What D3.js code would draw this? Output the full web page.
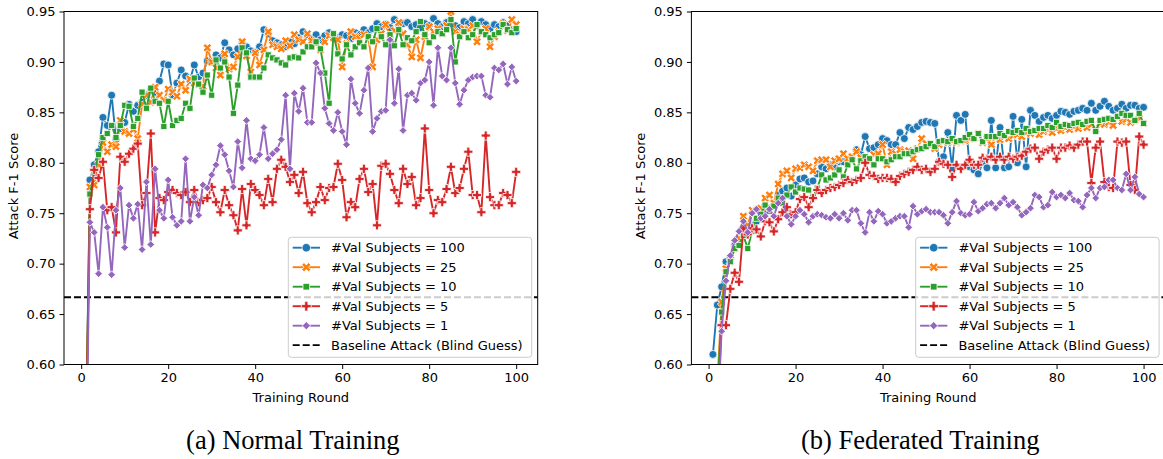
<!DOCTYPE html>
<html>
<head>
<meta charset="utf-8">
<script src="https://cdn.jsdelivr.net/npm/d3@7"></script>
<style>
body { margin: 0; background: #fff; }
text { font-family: "DejaVu Sans", sans-serif; }
</style>
</head>
<body>
<svg id="chart" width="1163" height="459"></svg>
<script>
// training rounds 1..100
var rounds = d3.range(1, 101);

// (a) normal training
var normal100 = [0.50,0.783,0.798,0.811,0.845,0.837,0.867,0.823,0.834,0.840,
	0.858,0.851,0.857,0.860,0.867,0.872,0.870,0.881,0.898,0.897,
	0.867,0.879,0.892,0.886,0.882,0.897,0.885,0.889,0.901,0.900,
	0.907,0.904,0.919,0.912,0.907,0.913,0.918,0.915,0.911,0.909,
	0.915,0.932,0.928,0.921,0.919,0.917,0.915,0.920,0.918,0.924,
	0.930,0.926,0.923,0.927,0.922,0.926,0.929,0.925,0.924,0.927,
	0.926,0.923,0.929,0.927,0.932,0.929,0.933,0.938,0.935,0.937,
	0.934,0.942,0.936,0.938,0.939,0.935,0.937,0.934,0.938,0.936,
	0.943,0.938,0.935,0.939,0.937,0.936,0.934,0.940,0.938,0.942,
	0.936,0.940,0.937,0.933,0.937,0.935,0.939,0.936,0.932,0.930];
var normal25 = [0.50,0.776,0.778,0.798,0.820,0.811,0.818,0.816,0.842,0.831,
	0.829,0.833,0.824,0.858,0.867,0.860,0.875,0.867,0.862,0.873,
	0.870,0.866,0.878,0.872,0.883,0.879,0.878,0.876,0.914,0.900,
	0.894,0.887,0.908,0.893,0.895,0.905,0.920,0.906,0.890,0.909,
	0.897,0.912,0.930,0.917,0.915,0.913,0.921,0.916,0.927,0.922,
	0.920,0.928,0.921,0.918,0.912,0.920,0.926,0.924,0.922,0.895,
	0.918,0.930,0.925,0.923,0.927,0.924,0.895,0.922,0.928,0.937,
	0.926,0.931,0.939,0.928,0.917,0.905,0.922,0.904,0.925,0.935,
	0.930,0.933,0.928,0.936,0.950,0.930,0.927,0.933,0.932,0.936,
	0.920,0.930,0.933,0.915,0.925,0.930,0.938,0.931,0.942,0.937];
var normal10 = [0.50,0.769,0.790,0.808,0.825,0.829,0.837,0.825,0.837,0.857,
	0.856,0.836,0.844,0.870,0.854,0.874,0.861,0.859,0.836,0.861,
	0.837,0.842,0.844,0.859,0.854,0.884,0.878,0.870,0.887,0.867,
	0.902,0.894,0.900,0.885,0.849,0.877,0.914,0.909,0.885,0.885,
	0.885,0.894,0.907,0.904,0.902,0.899,0.897,0.904,0.905,0.904,
	0.910,0.915,0.915,0.920,0.913,0.889,0.859,0.928,0.908,0.903,
	0.917,0.907,0.915,0.919,0.915,0.925,0.920,0.933,0.925,0.917,
	0.927,0.916,0.932,0.917,0.924,0.921,0.930,0.940,0.927,0.919,
	0.925,0.930,0.928,0.932,0.942,0.900,0.925,0.930,0.924,0.927,
	0.937,0.930,0.927,0.924,0.927,0.929,0.937,0.932,0.929,0.933];
var normal5 = [0.50,0.754,0.793,0.785,0.801,0.753,0.756,0.731,0.806,0.801,
	0.809,0.814,0.819,0.758,0.770,0.829,0.731,0.765,0.763,0.771,
	0.773,0.770,0.768,0.771,0.761,0.773,0.761,0.763,0.765,0.776,
	0.761,0.751,0.773,0.758,0.748,0.733,0.774,0.738,0.779,0.773,
	0.768,0.758,0.784,0.761,0.794,0.803,0.796,0.781,0.788,0.770,
	0.791,0.760,0.751,0.761,0.776,0.763,0.775,0.776,0.799,0.783,
	0.746,0.761,0.756,0.784,0.794,0.771,0.779,0.738,0.797,0.799,
	0.789,0.773,0.760,0.794,0.779,0.786,0.758,0.765,0.834,0.773,
	0.750,0.763,0.761,0.774,0.796,0.770,0.775,0.794,0.811,0.768,
	0.768,0.751,0.827,0.766,0.758,0.758,0.770,0.768,0.760,0.791];
var normal1 = [0.45,0.741,0.731,0.690,0.756,0.736,0.689,0.753,0.775,0.716,
	0.758,0.745,0.759,0.714,0.781,0.719,0.794,0.753,0.745,0.783,
	0.746,0.738,0.742,0.804,0.742,0.766,0.748,0.778,0.775,0.788,
	0.798,0.817,0.808,0.792,0.776,0.821,0.795,0.842,0.804,0.802,
	0.808,0.835,0.804,0.809,0.813,0.823,0.867,0.794,0.869,0.851,
	0.874,0.840,0.840,0.899,0.889,0.854,0.839,0.832,0.850,0.831,
	0.818,0.883,0.859,0.849,0.872,0.894,0.831,0.844,0.851,0.852,
	0.922,0.859,0.893,0.832,0.867,0.869,0.862,0.879,0.882,0.900,
	0.857,0.914,0.886,0.882,0.914,0.879,0.858,0.872,0.882,0.885,
	0.886,0.886,0.867,0.865,0.894,0.892,0.898,0.878,0.895,0.881];

// (b) federated training
var fed100 = [0.610,0.659,0.677,0.702,0.705,0.718,0.722,0.735,0.730,0.738,
	0.742,0.748,0.752,0.755,0.758,0.768,0.772,0.775,0.767,0.778,
	0.784,0.785,0.781,0.782,0.789,0.796,0.794,0.798,0.796,0.801,
	0.801,0.803,0.804,0.813,0.808,0.826,0.814,0.815,0.818,0.824,
	0.822,0.818,0.818,0.830,0.824,0.835,0.833,0.836,0.840,0.841,
	0.840,0.839,0.801,0.806,0.830,0.795,0.847,0.842,0.848,0.796,
	0.793,0.789,0.800,0.795,0.842,0.795,0.835,0.795,0.796,0.846,
	0.800,0.843,0.796,0.852,0.847,0.841,0.845,0.847,0.844,0.847,
	0.851,0.850,0.848,0.851,0.852,0.854,0.852,0.859,0.852,0.856,
	0.861,0.856,0.852,0.854,0.858,0.854,0.857,0.857,0.854,0.855];
var fed25 = [0.50,0.58,0.662,0.695,0.702,0.715,0.725,0.747,0.738,0.753,
	0.752,0.755,0.765,0.768,0.760,0.779,0.789,0.792,0.785,0.794,
	0.795,0.798,0.796,0.792,0.802,0.803,0.803,0.796,0.802,0.804,
	0.809,0.804,0.806,0.811,0.805,0.803,0.802,0.808,0.809,0.818,
	0.798,0.811,0.809,0.813,0.811,0.812,0.804,0.814,0.824,0.819,
	0.817,0.814,0.818,0.821,0.820,0.822,0.820,0.821,0.822,0.824,
	0.824,0.829,0.820,0.824,0.818,0.825,0.823,0.826,0.824,0.827,
	0.828,0.826,0.830,0.829,0.832,0.828,0.831,0.833,0.830,0.834,
	0.832,0.835,0.833,0.836,0.834,0.837,0.835,0.838,0.833,0.839,
	0.838,0.840,0.837,0.845,0.841,0.843,0.840,0.842,0.844,0.839];
var fed10 = [0.50,0.57,0.652,0.692,0.702,0.715,0.718,0.728,0.715,0.732,
	0.745,0.749,0.758,0.752,0.757,0.765,0.760,0.768,0.776,0.771,
	0.775,0.774,0.773,0.766,0.775,0.788,0.783,0.785,0.788,0.793,
	0.786,0.798,0.803,0.794,0.802,0.806,0.804,0.798,0.804,0.804,
	0.801,0.803,0.806,0.806,0.809,0.809,0.811,0.813,0.814,0.816,
	0.819,0.816,0.821,0.822,0.821,0.824,0.821,0.822,0.825,0.828,
	0.824,0.829,0.821,0.826,0.826,0.826,0.829,0.827,0.831,0.830,
	0.832,0.830,0.834,0.831,0.832,0.834,0.834,0.837,0.835,0.840,
	0.836,0.838,0.837,0.839,0.840,0.838,0.841,0.842,0.831,0.842,
	0.843,0.844,0.843,0.846,0.849,0.847,0.847,0.842,0.849,0.839];
var fed5 = [0.50,0.55,0.639,0.639,0.675,0.691,0.682,0.735,0.729,0.735,
	0.734,0.727,0.742,0.741,0.732,0.744,0.751,0.756,0.749,0.751,
	0.764,0.766,0.756,0.765,0.773,0.770,0.773,0.775,0.776,0.778,
	0.780,0.783,0.781,0.783,0.785,0.800,0.788,0.787,0.784,0.785,
	0.785,0.784,0.781,0.787,0.789,0.791,0.793,0.796,0.793,0.794,
	0.791,0.794,0.801,0.799,0.798,0.786,0.798,0.794,0.798,0.803,
	0.798,0.798,0.805,0.804,0.806,0.803,0.806,0.803,0.806,0.804,
	0.806,0.807,0.811,0.814,0.815,0.804,0.811,0.813,0.815,0.804,
	0.815,0.815,0.817,0.815,0.818,0.821,0.821,0.780,0.815,0.821,
	0.781,0.776,0.775,0.821,0.820,0.821,0.778,0.773,0.826,0.818];
var fed1 = [0.45,0.54,0.633,0.683,0.708,0.723,0.732,0.742,0.731,0.750,
	0.754,0.745,0.747,0.754,0.747,0.760,0.765,0.747,0.739,0.747,
	0.753,0.749,0.741,0.747,0.749,0.748,0.746,0.745,0.749,0.745,
	0.750,0.743,0.753,0.753,0.740,0.731,0.751,0.742,0.752,0.749,
	0.740,0.742,0.745,0.747,0.747,0.736,0.757,0.749,0.752,0.754,
	0.751,0.751,0.751,0.748,0.740,0.751,0.762,0.750,0.748,0.749,
	0.761,0.752,0.755,0.759,0.760,0.755,0.760,0.765,0.758,0.761,
	0.756,0.748,0.751,0.755,0.768,0.766,0.756,0.758,0.771,0.766,
	0.768,0.765,0.770,0.763,0.762,0.756,0.768,0.775,0.765,0.775,
	0.776,0.783,0.783,0.775,0.773,0.789,0.773,0.786,0.769,0.766];

var seriesNames = ["#Val Subjects = 100", "#Val Subjects = 25", "#Val Subjects = 10",
	"#Val Subjects = 5", "#Val Subjects = 1"];
var baselineName = "Baseline Attack (Blind Guess)";
var baseline = 2 / 3;
var yTicks = [0.60, 0.65, 0.70, 0.75, 0.80, 0.85, 0.90, 0.95];
var xTicks = [0, 20, 40, 60, 80, 100];
var captions = ["(a) Normal Training", "(b) Federated Training"];

var colors = ["#1f77b4", "#ff7f0e", "#2ca02c", "#d62728", "#9467bd"];
var markers = [
	{type: d3.symbolCircle, size: 50, rot: 0},
	{type: d3.symbolCross, size: 46, rot: 45},
	{type: d3.symbolSquare, size: 38, rot: 0},
	{type: d3.symbolCross, size: 46, rot: 0},
	{type: d3.symbolSquare, size: 30, rot: 45}
];

var svg = d3.select("#chart");

function drawPanel(left, allSeries, caption, idx) {
	var width = 473.7, top = 11.5, height = 353;
	var x = d3.scaleLinear().domain([-3.95, 104.95]).range([left, left + width]);
	var y = d3.scaleLinear().domain([0.60, 0.95]).range([top + height, top]);

	svg.append("clipPath").attr("id", "clip" + idx)
		.append("rect").attr("x", left).attr("y", top).attr("width", width).attr("height", height);

	var plot = svg.append("g").attr("clip-path", "url(#clip" + idx + ")");

	// baseline
	plot.append("line")
		.attr("x1", left).attr("x2", left + width)
		.attr("y1", y(baseline)).attr("y2", y(baseline))
		.attr("stroke", "#000").attr("stroke-width", 1.8).attr("stroke-dasharray", "7,3");

	var line = d3.line()
		.x(function(d, i) { return x(rounds[i]); })
		.y(function(d) { return y(d); });

	allSeries.forEach(function(vals, s) {
		plot.append("path")
			.datum(vals)
			.attr("d", line)
			.attr("fill", "none")
			.attr("stroke", colors[s])
			.attr("stroke-width", 1.9)
			.attr("stroke-linejoin", "round");
		var sym = d3.symbol().type(markers[s].type).size(markers[s].size);
		plot.selectAll(".m" + s)
			.data(vals)
			.enter().append("path")
			.attr("class", "m" + s)
			.attr("d", sym)
			.attr("transform", function(d, i) {
				return "translate(" + x(rounds[i]) + "," + y(d) + ") rotate(" + markers[s].rot + ")";
			})
			.attr("fill", colors[s])
			.attr("stroke", "#fff")
			.attr("stroke-width", 0.8);
	});

	// axes
	var gx = svg.append("g")
		.attr("transform", "translate(0," + (top + height) + ")")
		.call(d3.axisBottom(x).tickValues(xTicks).tickSize(4.5).tickPadding(4).tickSizeOuter(0));
	var gy = svg.append("g")
		.attr("transform", "translate(" + left + ",0)")
		.call(d3.axisLeft(y).tickValues(yTicks).tickFormat(d3.format(".2f")).tickSize(4.5).tickPadding(4).tickSizeOuter(0));
	[gx, gy].forEach(function(g) {
		g.select(".domain").remove();
		g.selectAll("text").attr("font-size", 13).attr("font-family", "DejaVu Sans").attr("fill", "#000");
		g.selectAll("line").attr("stroke", "#000").attr("stroke-width", 1);
	});

	svg.append("rect")
		.attr("x", left).attr("y", top).attr("width", width).attr("height", height)
		.attr("fill", "none").attr("stroke", "#000").attr("stroke-width", 1);

	svg.append("text")
		.attr("x", left + width / 2).attr("y", 401.5)
		.attr("text-anchor", "middle").attr("font-size", 13)
		.text("Training Round");
	svg.append("text")
		.attr("transform", "translate(" + (left - 46.5) + "," + (top + height / 2 - 2) + ") rotate(-90)")
		.attr("text-anchor", "middle").attr("font-size", 13)
		.text("Attack F-1 Score");

	svg.append("text")
		.attr("x", left + width / 2 - 8).attr("y", 449)
		.attr("text-anchor", "middle")
		.attr("font-size", 26.5)
		.style("font-family", "'Liberation Serif', serif")
		.text(caption);

	// legend
	var lx = left + width - 6 - 243.4, ly = top + height - 7.2 - 120;
	var leg = svg.append("g");
	leg.append("rect")
		.attr("x", lx).attr("y", ly).attr("width", 243.4).attr("height", 120)
		.attr("rx", 3).attr("fill", "#fff").attr("fill-opacity", 0.8)
		.attr("stroke", "#ccc").attr("stroke-width", 1);
	seriesNames.forEach(function(name, s) {
		var ry = ly + 10.4 + s * 19.5;
		leg.append("line")
			.attr("x1", lx + 4.4).attr("x2", lx + 31.7).attr("y1", ry).attr("y2", ry)
			.attr("stroke", colors[s]).attr("stroke-width", 1.9);
		leg.append("path")
			.attr("d", d3.symbol().type(markers[s].type).size(markers[s].size * 1.15))
			.attr("transform", "translate(" + (lx + 18) + "," + ry + ") rotate(" + markers[s].rot + ")")
			.attr("fill", colors[s]).attr("stroke", "#fff").attr("stroke-width", 0.8);
		leg.append("text")
			.attr("x", lx + 42.7).attr("y", ry).attr("dy", "0.36em")
			.attr("font-size", 13).text(name);
	});
	var by = ly + 10.4 + 5 * 19.5;
	leg.append("line")
		.attr("x1", lx + 4.4).attr("x2", lx + 31.7).attr("y1", by).attr("y2", by)
		.attr("stroke", "#000").attr("stroke-width", 1.8).attr("stroke-dasharray", "7,3");
	leg.append("text")
		.attr("x", lx + 42.7).attr("y", by).attr("dy", "0.36em")
		.attr("font-size", 13).text(baselineName);
}

drawPanel(64, [normal100, normal25, normal10, normal5, normal1], captions[0], 0);
drawPanel(691.4, [fed100, fed25, fed10, fed5, fed1], captions[1], 1);
</script>
</body>
</html>
